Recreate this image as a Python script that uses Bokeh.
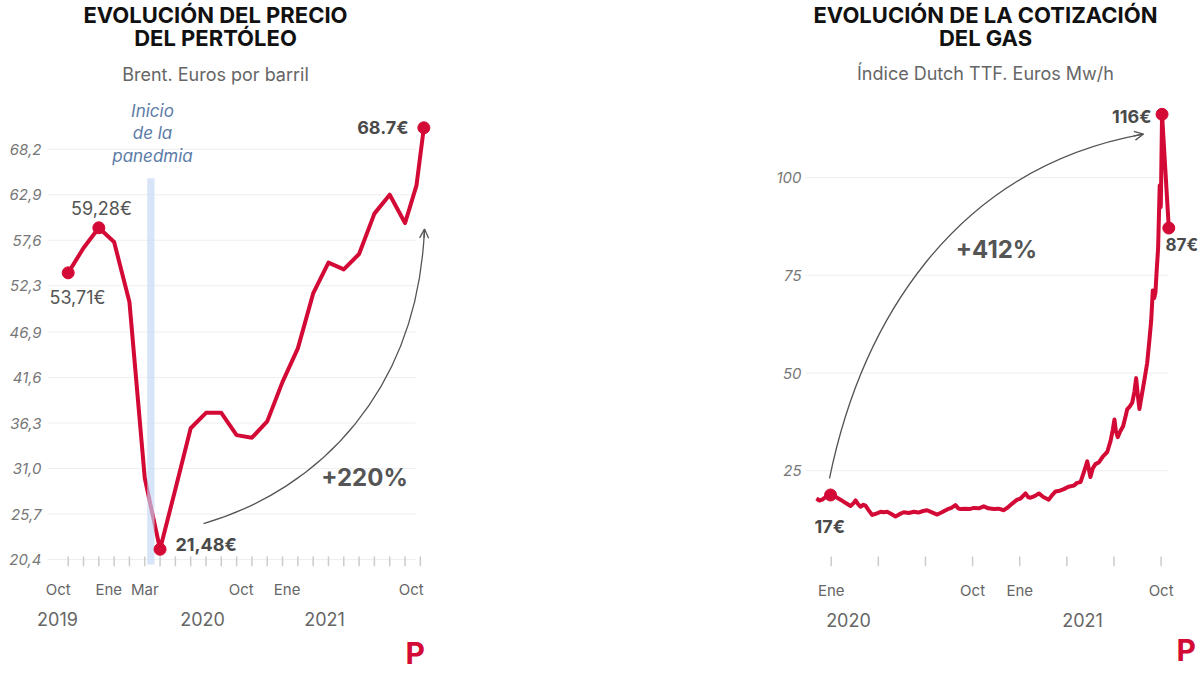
from bokeh.plotting import figure
from bokeh.layouts import row
from bokeh.models import Range1d, FixedTicker, LinearAxis, Title, Arrow, OpenHead, Spacer
from bokeh.core.properties import value
from bokeh.embed import file_html
from bokeh.resources import INLINE

# ---------------- DATA ----------------
# Brent (euros per barrel); x = months since Oct 2019
oil_month = [0, 1, 2, 3, 4, 5, 6, 7, 8, 9, 10, 11, 12, 13, 14, 15, 16, 17, 18, 19, 20, 21, 22, 22.75, 23.23]
oil_price = [53.8, 56.7, 59.05, 57.4, 50.4, 29.9, 21.6, 28.6, 35.7, 37.5, 37.5, 34.9, 34.6, 36.5,
             41.1, 45.0, 51.4, 55.0, 54.2, 56.0, 60.7, 62.9, 59.6, 64.0, 70.7]
oil_marked = [0, 2, 6, 24]
oil_yticks = [20.4, 25.7, 31.0, 36.3, 41.6, 46.9, 52.3, 57.6, 62.9, 68.2]
oil_ytick_labels = ["20,4", "25,7", "31,0", "36,3", "41,6", "46,9", "52,3", "57,6", "62,9", "68,2"]
oil_month_ticks = list(range(24))
oil_xlabel_pos = [-0.65, 2.65, 5.0, 11.3, 14.3, 22.4]
oil_xlabels = ["Oct", "Ene", "Mar", "Oct", "Ene", "Oct"]
oil_year_pos = [-0.7, 8.78, 16.74]
oil_years = ["2019", "2020", "2021"]
pandemic_month = 5.4

# Dutch TTF gas (euros MWh); x = months since Jan 2020
gas_month = [-0.94, -0.75, -0.57, -0.35, -0.04, 0.25, 0.59, 0.9, 1.23, 1.4, 1.55, 1.7, 1.86, 2.05, 2.18,
             2.4, 2.61, 2.85, 3.14, 3.35, 3.56, 3.8, 4.09, 4.35, 4.62, 4.95, 5.26, 5.55, 5.85, 6.11,
             6.45, 6.75, 7.05, 7.38, 7.65, 7.91, 8.08, 8.23, 8.55, 8.8, 9.08, 9.4, 9.71, 10.0, 10.35,
             10.65, 10.99, 11.2, 11.52, 11.84, 12.05, 12.37, 12.55, 12.69, 12.95, 13.22, 13.5, 13.85,
             14.05, 14.28, 14.55, 14.81, 15.1, 15.44, 15.65, 15.87, 16.08, 16.3, 16.5, 16.65, 16.82,
             17.05, 17.3, 17.57, 17.78, 17.92, 18.03, 18.12, 18.24, 18.4, 18.58, 18.72, 18.84, 19.0,
             19.16, 19.3, 19.41, 19.52, 19.62, 19.78, 19.94, 20.11, 20.25, 20.37, 20.47, 20.56, 20.64,
             20.71, 20.81, 20.91, 20.98, 21.06, 21.49]
gas_value = [17.9, 17.4, 17.6, 18.3, 18.8, 18.4, 17.6, 16.8, 16.0, 16.6, 17.4, 16.5, 15.8, 16.3, 16.1,
             14.8, 13.7, 14.0, 14.5, 14.4, 14.5, 14.0, 13.3, 13.9, 14.4, 14.2, 14.5, 14.3, 14.7, 14.9,
             14.3, 13.8, 14.4, 15.1, 15.5, 16.2, 15.4, 15.2, 15.3, 15.2, 15.5, 15.4, 15.9, 15.4, 15.2,
             15.3, 14.9, 15.5, 16.6, 17.6, 17.9, 19.2, 18.2, 18.1, 18.5, 19.2, 18.3, 17.6,
             18.7, 19.7, 19.9, 20.3, 20.9, 21.2, 21.9, 22.1, 24.6, 27.4, 23.4, 25.6, 26.7,
             27.2, 28.7, 29.8, 32.6, 35.4, 38.1, 35.2, 33.6, 35.1, 36.4, 38.6, 40.7, 41.4,
             42.4, 45.2, 48.7, 44.2, 40.8, 44.6, 48.3, 52.5, 58.2, 63.5, 71.1, 69.2, 70.6,
             75.7, 82.0, 98.0, 92.5, 116.2, 87.1]
gas_marked = [4, len(gas_month) - 2, len(gas_month) - 1]
gas_yticks = [25, 50, 75, 100]
gas_month_ticks = [0, 3, 6, 9, 12, 15, 18, 21]
gas_xlabel_pos = [0, 9, 12, 21]
gas_xlabels = ["Ene", "Oct", "Ene", "Oct"]
gas_year_pos = [1.1, 16.0]
gas_years = ["2020", "2021"]

# ---------------- STYLE ----------------
RED = "#d30a35"
FONT = "Inter"
GRID = "#eeeeee"
TICK = "#cccccc"
DARK = "#4a4a4a"
MID = "#666666"
FIG_H = 675

# pixel calibration (screen px -> data) for placing annotations
def lx(sx): return (sx - 67.7) / 15.31
def ly(sy): return 68.2 - (sy - 149) / 8.6
def rx(sx): return (sx - 830.7) / 15.71
def ry(sy): return (574 - sy) / 3.95


def no_ticks(ax):
    ax.axis_line_color = None
    ax.major_tick_line_color = None
    ax.minor_tick_line_color = None
    ax.major_tick_in = 0
    ax.major_tick_out = 0
    ax.minor_tick_in = 0
    ax.minor_tick_out = 0
    ax.major_label_text_font = FONT


def style_axes(p, yticks, ylabels, xpos, xlabels, ypos, years, ystand, mstand, yrstand):
    ya = p.yaxis[0]
    ya.ticker = FixedTicker(ticks=yticks)
    ya.major_label_overrides = {float(v): s for v, s in zip(yticks, ylabels)}
    no_ticks(ya)
    ya.major_label_text_font_style = "italic"
    ya.major_label_text_color = "#777777"
    ya.major_label_text_font_size = "15px"
    ya.major_label_standoff = ystand

    xa = p.xaxis[0]
    xa.ticker = FixedTicker(ticks=xpos)
    xa.major_label_overrides = {float(v): s for v, s in zip(xpos, xlabels)}
    no_ticks(xa)
    xa.major_label_text_color = MID
    xa.major_label_text_font_size = "15px"
    xa.major_label_standoff = mstand

    ax2 = LinearAxis(ticker=FixedTicker(ticks=ypos),
                     major_label_overrides={float(v): s for v, s in zip(ypos, years)})
    no_ticks(ax2)
    ax2.major_label_text_color = MID
    ax2.major_label_text_font_size = "18px"
    ax2.major_label_standoff = yrstand
    p.add_layout(ax2, "below")


def txt(p, x, y, s, size, color, style="normal", align="center"):
    p.text(x=[x], y=[y], text=[s], text_align=align, text_baseline="middle",
           text_font=value(FONT), text_font_size=size, text_color=color, text_font_style=style)


def logo(p, offset, standoff):
    p.add_layout(Title(text="P", align="left", offset=offset, standoff=standoff,
                       text_font=FONT, text_font_size="30px", text_font_style="bold",
                       text_color=RED), "below")


# ---------------- LEFT: OIL ----------------
p1 = figure(width=450, height=FIG_H, output_backend="svg", toolbar_location=None,
            x_range=Range1d(lx(47), lx(445)), y_range=Range1d(ly(567), ly(0)),
            min_border_left=47, min_border_right=5, min_border_top=0, min_border_bottom=FIG_H - 567)
p1.outline_line_color = None
p1.grid.visible = False
p1.background_fill_color = "white"
p1.border_fill_color = "white"

n = len(oil_yticks)
p1.segment(x0=[lx(47)] * n, y0=oil_yticks, x1=[lx(415)] * n, y1=oil_yticks, line_color=GRID, line_width=1)
p1.segment(x0=oil_month_ticks, y0=[ly(567)] * 24, x1=oil_month_ticks, y1=[ly(557)] * 24,
           line_color=TICK, line_width=1.5)

p1.line(oil_month, oil_price, line_color=RED, line_width=4, line_join="round")
p1.quad(left=[pandemic_month - 0.24], right=[pandemic_month + 0.24], bottom=[ly(565)], top=[ly(178)],
        fill_color="#c3d6f5", fill_alpha=0.65, line_color=None)
p1.scatter([oil_month[i] for i in oil_marked], [oil_price[i] for i in oil_marked],
           size=12, fill_color=RED, line_color=RED)

# arrow
p1.bezier(x0=[lx(203)], y0=[ly(524)], x1=[lx(424)], y1=[ly(229)],
          cx0=[lx(320)], cy0=[ly(490)], cx1=[lx(417)], cy1=[ly(390)],
          line_color="#555555", line_width=1.3)
p1.add_layout(Arrow(end=OpenHead(size=9, line_color="#555555", line_width=1.3),
                    x_start=lx(423.6), y_start=ly(238), x_end=lx(424), y_end=ly(229),
                    line_color="#555555", line_width=1.3))

# texts
txt(p1, lx(215), ly(15), "EVOLUCIÓN DEL PRECIO", "22px", "#111111", "bold")
txt(p1, lx(215), ly(38), "DEL PERTÓLEO", "22px", "#111111", "bold")
txt(p1, lx(215), ly(74), "Brent. Euros por barril", "18px", MID)
txt(p1, lx(152), ly(111), "Inicio", "17px", "#5b7ba6", "italic")
txt(p1, lx(152), ly(133), "de la", "17px", "#5b7ba6", "italic")
txt(p1, lx(152), ly(156), "panedmia", "17px", "#5b7ba6", "italic")
txt(p1, lx(101), ly(208), "59,28€", "18px", "#555555")
txt(p1, lx(77), ly(298), "53,71€", "18px", "#555555")
txt(p1, lx(175), ly(545), "21,48€", "18px", DARK, "bold", "left")
txt(p1, lx(408), ly(127), "68.7€", "18px", DARK, "bold", "right")
txt(p1, lx(364), ly(478), "+220%", "24px", "#555555", "bold")

style_axes(p1, oil_yticks, oil_ytick_labels, oil_xlabel_pos, oil_xlabels, oil_year_pos, oil_years,
           6, 13, 10)
logo(p1, 358, 9)

# ---------------- RIGHT: GAS ----------------
p2 = figure(width=440, height=FIG_H, output_backend="svg", toolbar_location=None,
            x_range=Range1d(rx(803), rx(1200)), y_range=Range1d(ry(572), ry(0)),
            min_border_left=43, min_border_right=0, min_border_top=0, min_border_bottom=FIG_H - 572)
p2.outline_line_color = None
p2.grid.visible = False
p2.background_fill_color = "white"
p2.border_fill_color = "white"

m = len(gas_yticks)
p2.segment(x0=[rx(805)] * m, y0=gas_yticks, x1=[rx(1168)] * m, y1=gas_yticks, line_color=GRID, line_width=1)
k = len(gas_month_ticks)
p2.segment(x0=gas_month_ticks, y0=[ry(572)] * k, x1=gas_month_ticks, y1=[ry(562)] * k,
           line_color=TICK, line_width=1.5)

p2.line(gas_month, gas_value, line_color=RED, line_width=4, line_join="round")
p2.scatter([gas_month[i] for i in gas_marked], [gas_value[i] for i in gas_marked],
           size=12, fill_color=RED, line_color=RED)

p2.bezier(x0=[rx(829)], y0=[ry(483)], x1=[rx(1143)], y1=[ry(135)],
          cx0=[rx(860)], cy0=[ry(330)], cx1=[rx(950)], cy1=[ry(170)],
          line_color="#555555", line_width=1.3)
p2.add_layout(Arrow(end=OpenHead(size=9, line_color="#555555", line_width=1.3),
                    x_start=rx(1133.2), y_start=ry(136.8), x_end=rx(1143), y_end=ry(135),
                    line_color="#555555", line_width=1.3))

txt(p2, rx(985), ry(15), "EVOLUCIÓN DE LA COTIZACIÓN", "22px", "#111111", "bold")
txt(p2, rx(985), ry(38), "DEL GAS", "22px", "#111111", "bold")
txt(p2, rx(985), ry(74), "Índice Dutch TTF. Euros Mw/h", "18px", MID)
txt(p2, rx(996), ry(252), "+412%", "24px", "#555555", "bold")
txt(p2, rx(1151), ry(117), "116€", "18px", DARK, "bold", "right")
txt(p2, rx(1165), ry(247), "87€", "17px", DARK, "bold", "left")
txt(p2, rx(814), ry(532), "17€", "18px", DARK, "bold", "left")

style_axes(p2, gas_yticks, [str(v) for v in gas_yticks], gas_xlabel_pos, gas_xlabels,
           gas_year_pos, gas_years, 2, 14, 10)
logo(p2, 373, 0)

layout = row(p1, Spacer(width=310, height=FIG_H), p2)
open("out.html", "w").write(file_html(layout, INLINE))
